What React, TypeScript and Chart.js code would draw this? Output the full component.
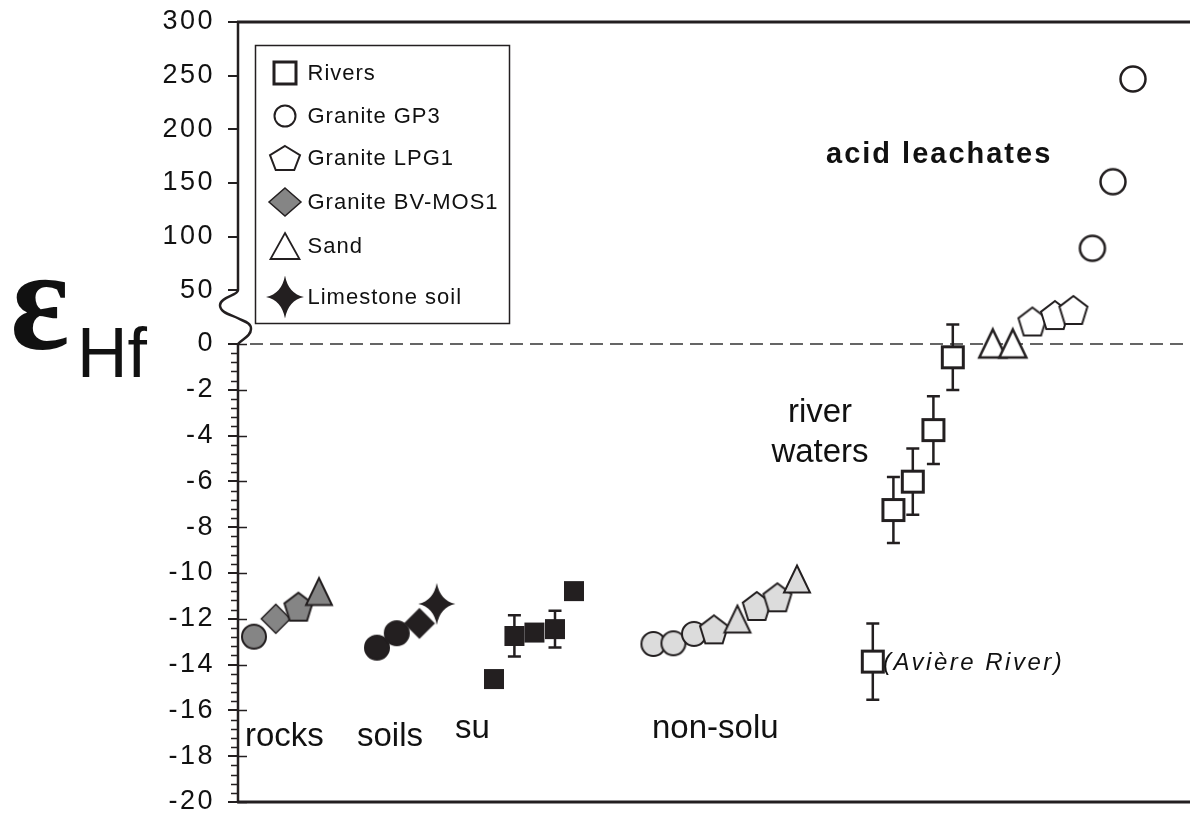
import React, { useEffect, useRef } from 'react';
import { Chart, registerables } from 'chart.js';

Chart.register(...registerables);

// ---------- axis definition (broken y axis: above 0 is compressed) ----------
const BOTTOM_TICKS = [-20, -18, -16, -14, -12, -10, -8, -6, -4, -2, 0];
const TOP_TICKS = [50, 100, 150, 200, 250, 300];
const TOP_MAX = 300;
const TOP_RATIO = 0.04687; // bottom-axis units per top-axis unit
const X_MAX = 47.6;

const T = (v: number) => (v <= 0 ? v : v * TOP_RATIO);

// ---------- data (x = sample order position, y = εHf) ----------
const rocksX = [0.8, 1.89, 3.02, 4.05];
const rocksY = [-12.78, -12.0, -11.47, -10.81];
const rocksSample = ['GP3', 'BV-MOS1', 'LPG1', 'Sand'];

const soilsX = [6.95, 7.94, 9.07, 9.94];
const soilsY = [-13.26, -12.63, -12.2, -11.35];
const soilsSample = ['GP3', 'GP3', 'BV-MOS1', 'Limestone'];

const suX = [12.8, 13.82, 14.82, 15.85, 16.8];
const suY = [-14.63, -12.75, -12.6, -12.45, -10.79];
const suErr = [0, 0.9, 0, 0.8, 0];

const nonSoluX = [20.77, 21.77, 22.8, 23.8, 24.97, 25.94, 26.97, 27.95];
const nonSoluY = [-13.1, -13.07, -12.66, -12.46, -12.01, -11.44, -11.06, -10.26];
const nonSoluSample = ['GP3', 'GP3', 'GP3', 'LPG1', 'Sand', 'LPG1', 'LPG1', 'Sand'];

const riverX = [31.74, 32.77, 33.74, 34.77, 35.74];
const riverY = [-13.87, -7.25, -6.01, -3.76, -0.58];
const riverErr = [1.66, 1.44, 1.45, 1.48, 1.43];

const leachX = [37.74, 38.74, 39.72, 40.85, 41.77, 42.72, 43.75, 44.75];
const leachY = [0.5, 0.5, 21.0, 27.0, 31.7, 89.2, 151.2, 246.9];
const leachSample = ['Sand', 'Sand', 'LPG1', 'LPG1', 'LPG1', 'GP3', 'GP3', 'GP3'];

const legendLabels = ['Rivers', 'Granite GP3', 'Granite LPG1', 'Granite BV-MOS1', 'Sand', 'Limestone soil'];
const legendSamples = ['River', 'GP3', 'LPG1', 'BV-MOS1', 'Sand', 'Limestone'];

const annotations = [
  { text: 'rocks', x: 0.35, y: -17.55, kind: 'group' },
  { text: 'soils', x: 5.95, y: -17.55, kind: 'group' },
  { text: 'su', x: 10.85, y: -17.2, kind: 'group' },
  { text: 'non-solu', x: 20.7, y: -17.2, kind: 'group' },
  { text: 'river', x: 29.1, y: -3.41, kind: 'center' },
  { text: 'waters', x: 29.1, y: -5.15, kind: 'center' },
  { text: 'acid leachates', x: 29.4, y: 168.6, kind: 'bold' },
  { text: '(Avière River)', x: 32.25, y: -14.24, kind: 'italic' },
];

// ---------- styles ----------
const INK = '#231f20';
const FILL_ROCKS = '#858585';
const FILL_SOILS = '#231f20';
const FILL_NONSOLU = '#dcdcdc';
const FILL_OPEN = '#ffffff';
const FONT = '"Liberation Sans", Arial, sans-serif';

const SHAPE: Record<string, string> = {
  GP3: 'circle', LPG1: 'pentagon', 'BV-MOS1': 'diamond', Sand: 'triangle', Limestone: 'star', River: 'square', Su: 'square',
};
const SIZE: Record<string, [number, number, number]> = {
  circle: [24, 24, 2],
  pentagon: [28, 28, 2],
  diamond: [29, 29, 1.5],
  triangle: [26, 27, 2],
  star: [37, 42, 0],
  square: [21, 21, 3],
};

function makeMarker(shape: string, w: number, h: number, fill: string, stroke: string, lw: number) {
  const pad = Math.ceil(lw) + 2;
  const c = document.createElement('canvas');
  c.width = 2 * Math.ceil((w + 2 * pad) / 2);
  c.height = 2 * Math.ceil((h + 2 * pad) / 2);
  const ctx = c.getContext('2d')!;
  ctx.translate(c.width / 2, c.height / 2);
  ctx.beginPath();
  if (shape === 'circle') {
    ctx.ellipse(0, 0, w / 2, h / 2, 0, 0, Math.PI * 2);
  } else if (shape === 'square') {
    ctx.rect(-w / 2, -h / 2, w, h);
  } else if (shape === 'diamond') {
    ctx.moveTo(0, -h / 2); ctx.lineTo(w / 2, 0); ctx.lineTo(0, h / 2); ctx.lineTo(-w / 2, 0);
  } else if (shape === 'triangle') {
    ctx.moveTo(0, -h / 2); ctx.lineTo(w / 2, h / 2); ctx.lineTo(-w / 2, h / 2);
  } else if (shape === 'pentagon') {
    const s72 = Math.sin((72 * Math.PI) / 180);
    const c36 = Math.cos((36 * Math.PI) / 180);
    const sx = w / (2 * s72);
    const sy = h / (1 + c36);
    const yc = (-1 + c36) / 2;
    for (let k = 0; k < 5; k++) {
      const a = ((-90 + k * 72) * Math.PI) / 180;
      const px = sx * Math.cos(a);
      const py = sy * (Math.sin(a) - yc);
      if (k === 0) ctx.moveTo(px, py); else ctx.lineTo(px, py);
    }
  } else if (shape === 'star') {
    // four-pointed star with slightly concave sides
    const inner = 6;
    const tips: [number, number][] = [[0, -h / 2], [w / 2, 0], [0, h / 2], [-w / 2, 0]];
    const inn: [number, number][] = [[inner, -inner], [inner, inner], [-inner, inner], [-inner, -inner]];
    ctx.moveTo(tips[0][0], tips[0][1]);
    for (let k = 0; k < 4; k++) {
      const [ix, iy] = inn[k];
      const [nx, ny] = tips[(k + 1) % 4];
      ctx.quadraticCurveTo(ix * 0.55, iy * 0.55, nx, ny);
    }
  }
  ctx.closePath();
  ctx.fillStyle = fill;
  ctx.fill();
  if (lw > 0) {
    ctx.lineWidth = lw;
    ctx.strokeStyle = stroke;
    ctx.lineJoin = 'miter';
    ctx.stroke();
  }
  return c;
}

function plotMarker(sample: string, fill: string, override?: [number, number, number]) {
  const shape = SHAPE[sample];
  const [w, h, lw] = override || SIZE[shape];
  return makeMarker(shape, w, h, fill, INK, lw);
}

function buildDataset(label: string, xs: number[], ys: number[], samples: string[], fill: string, errors?: number[], sizeFor?: (s: string) => [number, number, number] | undefined) {
  return {
    label,
    data: xs.map((x, i) => ({ x, y: T(ys[i]) })),
    pointStyle: samples.map((s) => plotMarker(s, fill, sizeFor ? sizeFor(s) : undefined)),
    pointRadius: 10,
    pointHoverRadius: 10,
    showLine: false,
    clip: false,
    errors,
  } as any;
}

const decor = {
  id: 'decor',
  beforeDraw(chart: any) {
    // letter spacing for the axis tick labels, which are drawn next
    (chart.ctx as any).letterSpacing = '2.5px';
  },
  beforeDatasetsDraw(chart: any) {
    const { ctx, chartArea: a, scales } = chart;
    (ctx as any).letterSpacing = '0px';
    const y = scales.y;
    const y0 = y.getPixelForValue(0);
    ctx.save();
    ctx.setLineDash([13, 7]);
    ctx.lineWidth = 1.5;
    ctx.strokeStyle = '#333';
    ctx.beginPath();
    ctx.moveTo(a.left + 12, y0);
    ctx.lineTo(a.right, y0);
    ctx.stroke();
    ctx.setLineDash([]);
    // error bars
    ctx.strokeStyle = INK;
    ctx.lineWidth = 2.5;
    chart.data.datasets.forEach((ds: any, di: number) => {
      const errs = ds.errors;
      if (!errs) return;
      const meta = chart.getDatasetMeta(di);
      meta.data.forEach((pt: any, i: number) => {
        const e = errs[i];
        if (!e) return;
        const v = ds.data[i].y;
        const yt = y.getPixelForValue(v + e);
        const yb = y.getPixelForValue(v - e);
        const x = pt.x;
        ctx.beginPath();
        ctx.moveTo(x, yt); ctx.lineTo(x, yb);
        ctx.moveTo(x - 6.5, yt); ctx.lineTo(x + 6.5, yt);
        ctx.moveTo(x - 6.5, yb); ctx.lineTo(x + 6.5, yb);
        ctx.stroke();
      });
    });
    ctx.restore();
  },
  afterDraw(chart: any) {
    const { ctx, chartArea: a, scales } = chart;
    const x = scales.x;
    const y = scales.y;
    const L = a.left;
    const y0 = y.getPixelForValue(0);
    const y50 = y.getPixelForValue(T(50));
    const h = y0 - y50;
    ctx.save();
    (ctx as any).letterSpacing = '0px';
    ctx.strokeStyle = INK;
    // frame top & bottom
    ctx.lineWidth = 3;
    ctx.beginPath();
    ctx.moveTo(L - 1, a.top); ctx.lineTo(a.right, a.top);
    ctx.moveTo(L - 1, a.bottom); ctx.lineTo(a.right, a.bottom);
    ctx.stroke();
    // axis line with break
    ctx.lineWidth = 2.5;
    ctx.beginPath();
    ctx.moveTo(L, a.top);
    ctx.lineTo(L, y50);
    ctx.bezierCurveTo(L, y50 + 0.1 * h, L - 18, y50 + 0.12 * h, L - 18, y50 + 0.28 * h);
    ctx.bezierCurveTo(L - 18, y50 + 0.42 * h, L - 6, y50 + 0.46 * h, L, y50 + 0.52 * h);
    ctx.bezierCurveTo(L + 6, y50 + 0.58 * h, L + 13, y50 + 0.6 * h, L + 13, y50 + 0.72 * h);
    ctx.bezierCurveTo(L + 13, y50 + 0.86 * h, L + 3, y50 + 0.92 * h, L, y0);
    ctx.lineTo(L, a.bottom);
    ctx.stroke();
    // minor ticks and inner major ticks (lower part)
    ctx.lineWidth = 1.6;
    ctx.beginPath();
    for (let k = 0; k <= 50; k++) {
      const v = -20 + k * 0.4;
      const py = Math.round(y.getPixelForValue(v)) + 0.5;
      if (k % 5 === 0) {
        ctx.moveTo(L, py); ctx.lineTo(L + 9, py);
      } else {
        ctx.moveTo(L - 7, py); ctx.lineTo(L, py);
      }
    }
    ctx.stroke();

    // annotations
    ctx.fillStyle = '#111';
    ctx.textBaseline = 'alphabetic';
    annotations.forEach((an) => {
      const px = x.getPixelForValue(an.x);
      const py = y.getPixelForValue(T(an.y));
      (ctx as any).letterSpacing = '0px';
      ctx.textAlign = 'left';
      if (an.kind === 'bold') {
        ctx.font = `bold 29px ${FONT}`;
        (ctx as any).letterSpacing = '2px';
      } else if (an.kind === 'italic') {
        ctx.font = `italic 24px ${FONT}`;
        (ctx as any).letterSpacing = '2.5px';
      } else {
        ctx.font = `33px ${FONT}`;
        if (an.kind === 'center') ctx.textAlign = 'center';
      }
      ctx.fillText(an.text, px, py);
    });
    (ctx as any).letterSpacing = '0px';
    ctx.textAlign = 'left';

    // legend
    const bl = L + 17.5;
    const bt = a.top + 23.5;
    ctx.lineWidth = 1.5;
    ctx.strokeStyle = INK;
    ctx.fillStyle = '#fff';
    ctx.fillRect(bl, bt, 254, 278);
    ctx.strokeRect(bl, bt, 254, 278);
    const rows = [27, 70, 112, 156, 200, 251];
    const legendStyle: Record<string, [number, number, number, string]> = {
      River: [22, 22, 3, FILL_OPEN],
      GP3: [21, 21, 2, FILL_OPEN],
      LPG1: [30, 24, 2, FILL_OPEN],
      'BV-MOS1': [32, 28, 1.5, FILL_ROCKS],
      Sand: [29, 26, 1.8, FILL_OPEN],
      Limestone: [38, 43, 0, FILL_SOILS],
    };
    ctx.font = `22px ${FONT}`;
    ctx.textBaseline = 'middle';
    legendLabels.forEach((lab, i) => {
      const s = legendSamples[i];
      const [w, hh, lw, fill] = legendStyle[s];
      const img = makeMarker(SHAPE[s], w, hh, fill, INK, lw);
      const cx = bl + 29;
      const cy = bt + rows[i];
      ctx.drawImage(img, Math.round(cx - img.width / 2), Math.round(cy - img.height / 2));
      ctx.fillStyle = '#111';
      (ctx as any).letterSpacing = '1px';
      ctx.fillText(lab, bl + 52, cy + 1);
    });
    (ctx as any).letterSpacing = '0px';

    // y-axis title: ε Hf
    ctx.textBaseline = 'alphabetic';
    ctx.font = `bold 100px "Liberation Serif", "DejaVu Serif", serif`;
    const m = ctx.measureText('ε');
    const gw = m.actualBoundingBoxLeft + m.actualBoundingBoxRight;
    const gh = m.actualBoundingBoxAscent + m.actualBoundingBoxDescent;
    const sx = 54 / gw;
    const sy = 70 / gh;
    ctx.save();
    ctx.translate(13, 280);
    ctx.scale(sx, sy);
    ctx.fillStyle = '#111';
    ctx.fillText('ε', m.actualBoundingBoxLeft, m.actualBoundingBoxAscent);
    ctx.restore();
    ctx.font = `70px ${FONT}`;
    ctx.fillStyle = '#111';
    ctx.fillText('Hf', 77, 377);
    ctx.restore();
  },
};

export default function App() {
  const ref = useRef<HTMLCanvasElement>(null);
  useEffect(() => {
    const canvas = ref.current!;
    const big = (s: string): [number, number, number] | undefined => (s === 'GP3' ? [25, 25, 2.5] : s === 'Sand' ? [27, 28, 2.5] : undefined);
    const datasets = [
      buildDataset('rocks', rocksX, rocksY, rocksSample, FILL_ROCKS),
      buildDataset('soils', soilsX, soilsY, soilsSample, FILL_SOILS),
      buildDataset('su', suX, suY, suX.map(() => 'Su'), FILL_SOILS, suErr, () => [20, 20, 0]),
      buildDataset('non-solu', nonSoluX, nonSoluY, nonSoluSample, FILL_NONSOLU),
      buildDataset('Rivers', riverX, riverY, riverX.map(() => 'River'), FILL_OPEN, riverErr),
      buildDataset('acid leachates', leachX, leachY, leachSample, FILL_OPEN, undefined, big),
    ];
    const chart = new Chart(canvas, {
      type: 'scatter',
      data: { datasets },
      options: {
        animation: false,
        responsive: false,
        devicePixelRatio: 1,
        layout: { autoPadding: false, padding: { top: 22, bottom: 16, left: 0, right: 0 } },
        plugins: { legend: { display: false }, tooltip: { enabled: false } },
        scales: {
          x: { type: 'linear', min: 0, max: X_MAX, display: false },
          y: {
            type: 'linear',
            min: -20,
            max: T(TOP_MAX),
            afterBuildTicks: (scale: any) => {
              scale.ticks = [...BOTTOM_TICKS, ...TOP_TICKS.map(T)].map((v) => ({ value: v }));
            },
            afterFit: (scale: any) => {
              scale.width = 238;
              scale.paddingTop = 0;
              scale.paddingBottom = 0;
            },
            ticks: {
              autoSkip: false,
              padding: 13,
              color: '#111',
              font: { family: FONT, size: 27 },
              callback: (value: any) => {
                const v = Number(value);
                return v <= 0 ? String(Math.round(v)) : String(Math.round(v / TOP_RATIO));
              },
            },
            grid: { drawOnChartArea: false, drawTicks: true, tickLength: 10, color: INK, lineWidth: 2 },
            border: { display: false },
          },
        },
      },
      plugins: [decor],
    } as any);
    return () => chart.destroy();
  }, []);
  return (
    <div style={{ position: 'absolute', left: 0, top: 0, width: 1190, height: 818, background: '#fff' }}>
      <canvas ref={ref} width={1190} height={818} style={{ display: 'block', width: 1190, height: 818 }} />
    </div>
  );
}
